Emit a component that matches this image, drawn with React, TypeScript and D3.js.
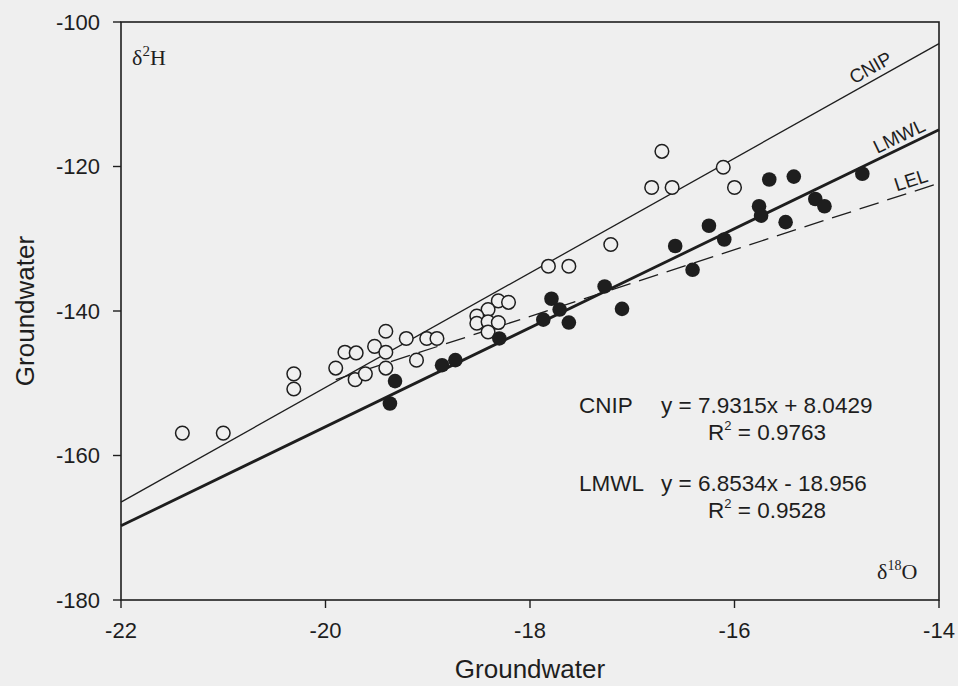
import React from 'react'
import * as d3 from 'd3'

// axis ticks
const xTicks = [-22, -20, -18, -16, -14]
const yTicks = [-100, -120, -140, -160, -180]

// open circles (CNIP samples)
const openX = [-21.4, -21.0, -20.31, -20.31, -19.9, -19.81, -19.7, -19.71, -19.61, -19.52, -19.41, -19.41, -19.41,
  -19.21, -19.11, -19.01, -18.91, -18.31, -18.21, -18.41, -18.52, -18.52, -18.41, -18.31, -18.41,
  -17.82, -17.62, -17.21, -16.81, -16.61, -16.71, -16.11, -16.0]
const openY = [-156.9, -156.9, -148.7, -150.8, -147.9, -145.7, -145.8, -149.5, -148.7, -144.9, -142.8, -145.7, -147.9,
  -143.8, -146.8, -143.8, -143.8, -138.6, -138.8, -139.8, -140.7, -141.7, -141.5, -141.6, -142.9,
  -133.8, -133.8, -130.8, -122.9, -122.9, -117.9, -120.1, -122.9]

// filled circles (groundwater)
const filledX = [-19.37, -19.32, -18.86, -18.73, -18.3, -17.87, -17.79, -17.71, -17.62, -17.27, -17.1, -16.58,
  -16.41, -16.25, -16.1, -15.76, -15.74, -15.66, -15.42, -15.5, -15.21, -15.12, -14.75]
const filledY = [-152.8, -149.7, -147.5, -146.8, -143.8, -141.2, -138.3, -139.8, -141.6, -136.6, -139.7, -131.0,
  -134.3, -128.2, -130.1, -125.5, -126.8, -121.8, -121.4, -127.7, -124.5, -125.5, -121.0]

// regression lines
const fitNames = ['CNIP', 'LMWL']
const fitSlopes = [7.9315, 6.8534]
const fitIntercepts = [8.0429, -18.956]
const fitR2 = ['0.9763', '0.9528']
const fitEquations = ['y = 7.9315x + 8.0429', 'y = 6.8534x - 18.956']

// local evaporation line (dashed)
const lelX = [-19.9, -14]
const lelY = [-149.5, -122.3]

const W = 958
const H = 686
const bg = '#efefef'
const ink = '#1e1e1e'
const sans = '"Liberation Sans", Arial, sans-serif'
const serif = '"Liberation Serif", "Times New Roman", serif'

export default function App() {
  const x = d3.scaleLinear().domain([-22, -14]).range([121, 939])
  const y = d3.scaleLinear().domain([-180, -100]).range([600, 22])
  const [x0, x1] = x.range()
  const [yb, yt] = y.range()

  const line = d3.line<[number, number]>().x(d => x(d[0])).y(d => y(d[1]))
  const pxAngle = (m: number) => (Math.atan(m * (yb - yt) / 80 / ((x1 - x0) / 8)) * 180) / Math.PI

  const fits = fitNames.map((name, i) => {
    const f = (v: number) => fitSlopes[i] * v + fitIntercepts[i]
    return { name, f, slope: fitSlopes[i], d: line([[-22, f(-22)], [-14, f(-14)]]) }
  })
  const lelSlope = (lelY[1] - lelY[0]) / (lelX[1] - lelX[0])

  const lineLabels = [
    { text: 'CNIP', at: -14.61, f: fits[0].f, slope: fitSlopes[0], dy: -6 },
    { text: 'LMWL', at: -14.34, f: fits[1].f, slope: fitSlopes[1], dy: -5 },
    { text: 'LEL', at: -14.24, f: (v: number) => lelY[1] + lelSlope * (v - lelX[1]), slope: lelSlope, dy: -5 },
  ]

  return (
    <svg width={W} height={H} style={{ position: 'absolute', left: 0, top: 0, background: bg }}>
      <rect width={W} height={H} fill={bg} />

      {/* frame */}
      <rect x={x0} y={yt} width={x1 - x0} height={yb - yt} fill="none" stroke={ink} strokeWidth={1.6} />

      {/* y ticks */}
      {yTicks.map(t => (
        <g key={t} transform={`translate(${x0},${y(t)})`}>
          <line x1={-8} x2={0} stroke={ink} strokeWidth={1.4} />
          <text x={-21} dy="0.36em" textAnchor="end" fontFamily={sans} fontSize={22} fill={ink}>{t}</text>
        </g>
      ))}

      {/* x ticks */}
      {xTicks.map(t => (
        <g key={t} transform={`translate(${x(t)},${yb})`}>
          <line y1={0} y2={8} stroke={ink} strokeWidth={1.4} />
          <text y={38} textAnchor="middle" fontFamily={sans} fontSize={22} fill={ink}>{t}</text>
        </g>
      ))}

      {/* axis titles */}
      <text x={(x0 + x1) / 2} y={678} textAnchor="middle" fontFamily={sans} fontSize={26} fill={ink}>Groundwater</text>
      <text transform={`translate(34,${(yt + yb) / 2}) rotate(-90)`} textAnchor="middle" fontFamily={sans} fontSize={26} fill={ink}>Groundwater</text>

      {/* corner labels */}
      <text x={132} y={65} fontFamily={serif} fontSize={22} fill={ink}>δ<tspan dy={-9} fontSize={15}>2</tspan><tspan dy={9}>H</tspan></text>
      <text x={877} y={579} fontFamily={serif} fontSize={22} fill={ink}>δ<tspan dy={-9} fontSize={14}>18</tspan><tspan dy={9}>O</tspan></text>

      {/* fit lines */}
      <path d={fits[0].d ?? ''} fill="none" stroke={ink} strokeWidth={1.3} />
      <path d={fits[1].d ?? ''} fill="none" stroke={ink} strokeWidth={2.8} />
      <path d={line(lelX.map((v, i) => [v, lelY[i]] as [number, number])) ?? ''} fill="none" stroke={ink} strokeWidth={1.3} strokeDasharray="20,9" />

      {lineLabels.map(l => (
        <text key={l.text} transform={`translate(${x(l.at)},${y(l.f(l.at))}) rotate(${-pxAngle(l.slope)})`}
          y={l.dy} textAnchor="middle" fontFamily={sans} fontSize={19} fill={ink}>{l.text}</text>
      ))}

      {/* points */}
      {openX.map((v, i) => (
        <circle key={'o' + i} cx={x(v)} cy={y(openY[i])} r={6.8} fill={bg} stroke={ink} strokeWidth={1.5} />
      ))}
      {filledX.map((v, i) => (
        <circle key={'f' + i} cx={x(v)} cy={y(filledY[i])} r={7.3} fill={ink} />
      ))}

      {/* equations */}
      {fits.map((f, i) => {
        const base = i === 0 ? 413 : 491
        return (
          <g key={f.name} fontFamily={sans} fontSize={22.5} fill={ink}>
            <text x={579} y={base}>{f.name}</text>
            <text x={661} y={base}>{fitEquations[i]}</text>
            <text x={708} y={base + 27}>R<tspan dy={-10} fontSize={13}>2</tspan><tspan dy={10}> = {fitR2[i]}</tspan></text>
          </g>
        )
      })}
    </svg>
  )
}
